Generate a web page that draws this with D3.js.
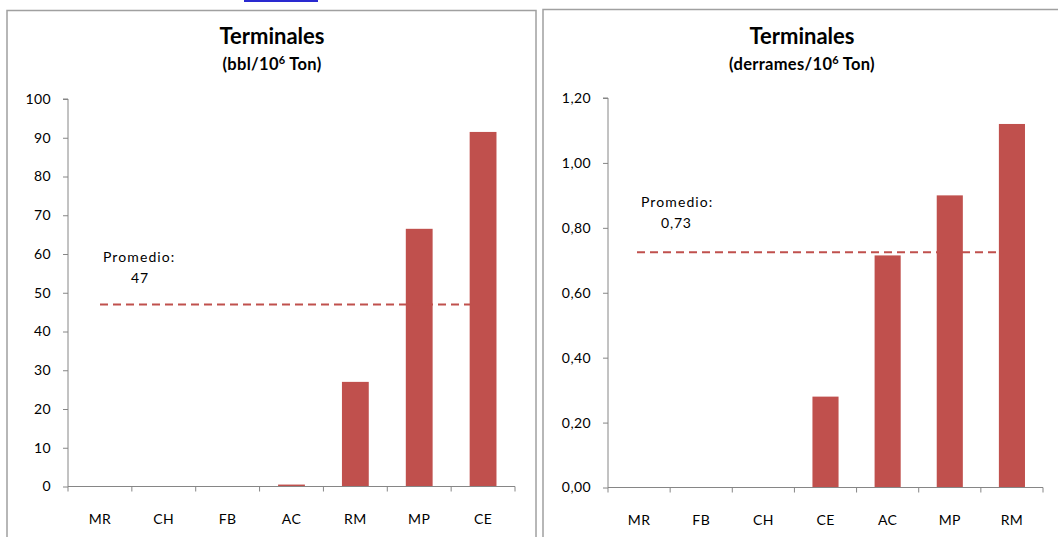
<!DOCTYPE html>
<html><head><meta charset="utf-8">
<script src="https://cdn.jsdelivr.net/npm/d3@7"></script>
<style>
html,body{margin:0;padding:0;background:#fff;}
svg{display:block;font-family:Lato,"Open Sans",sans-serif;}
</style></head>
<body>
<svg id="c" width="1058" height="537"></svg>
<script>
// Data
const catsLeft = ["MR","CH","FB","AC","RM","MP","CE"];
const valsLeft = [0, 0, 0, 0.5, 27, 66.5, 91.5];
const avgLeft = 47;
const avgLeftLabel = "47";
const ticksLeft = [0,10,20,30,40,50,60,70,80,90,100];

const catsRight = ["MR","FB","CH","CE","AC","MP","RM"];
const valsRight = [0, 0, 0, 0.28, 0.715, 0.90, 1.12];
const avgRight = 0.725;
const avgRightLabel = "0,73";
const ticksRight = [0,0.2,0.4,0.6,0.8,1.0,1.2];

const svg = d3.select("#c");
const barColor = "#C0504D";
const axisColor = "#868686";

// link underline fragment at top
svg.append("rect").attr("x",244).attr("y",0).attr("width",74).attr("height",2).attr("fill","#2a2ad0");

function panel(opt){
  const g = svg.append("g");
  // frame
  g.append("rect").attr("x",opt.fx).attr("y",opt.fy).attr("width",opt.fw).attr("height",600)
    .attr("fill","none").attr("stroke","#a0a0a0").attr("stroke-width",1.5);
  // title
  g.append("text").attr("x",opt.cx).attr("y",44).attr("text-anchor","middle")
    .attr("font-size",22).attr("font-weight","bold").attr("fill","#000").text("Terminales");
  const st = g.append("text").attr("x",opt.cx).attr("y",70).attr("text-anchor","middle")
    .attr("font-size",16.5).attr("font-weight","bold").attr("fill","#000").attr("letter-spacing",0.3);
  st.append("tspan").text(opt.sub1);
  st.append("tspan").attr("dy",-6).attr("font-size",11).text("6");
  st.append("tspan").attr("dy",6).text(" Ton)");

  const x = d3.scaleBand().domain(opt.cats).range([opt.x0,opt.x1]).paddingInner(0.58).paddingOuter(0.29);
  const y = d3.scaleLinear().domain([0,opt.max]).range([opt.y0,opt.y1]);

  // y axis
  const ya = g.append("g").attr("transform",`translate(${opt.x0},0)`)
    .call(d3.axisLeft(y).tickValues(opt.ticks).tickSize(5).tickPadding(opt.tp).tickFormat(opt.fmt));
  ya.selectAll("path,line").attr("stroke",axisColor);
  ya.select(".domain").attr("d",`M-5,${opt.y1}H0V${opt.y0}`);
  ya.selectAll("text").attr("font-size",14).attr("fill","#000").attr("font-family","Lato,sans-serif").attr("letter-spacing",0.4);

  // bars
  g.selectAll("rect.bar").data(opt.vals).enter().append("rect").attr("class","bar")
    .attr("x",(d,i)=>x(opt.cats[i])).attr("width",x.bandwidth())
    .attr("y",d=>y(d)).attr("height",d=>y(0)-y(d)).attr("fill",barColor);

  // x axis
  g.append("line").attr("x1",opt.x0).attr("x2",opt.x1).attr("y1",opt.y0).attr("y2",opt.y0).attr("stroke",axisColor);
  const bounds = opt.cats.map(c=>x(c)-(x.step()-x.bandwidth())/2).concat([opt.x1]);
  g.selectAll("line.xt").data(bounds).enter().append("line").attr("class","xt")
    .attr("x1",d=>d).attr("x2",d=>d).attr("y1",opt.y0).attr("y2",opt.y0+5).attr("stroke",axisColor);
  g.selectAll("text.xl").data(opt.cats).enter().append("text").attr("class","xl")
    .attr("x",d=>x(d)+x.bandwidth()/2).attr("y",opt.y0+37).attr("text-anchor","middle")
    .attr("font-size",14).attr("letter-spacing",0.4).attr("fill","#000").text(d=>d);

  // average line
  g.append("line").attr("x1",opt.ax0).attr("x2",opt.ax1).attr("y1",y(opt.avg)).attr("y2",y(opt.avg))
    .attr("stroke",barColor).attr("stroke-width",2).attr("stroke-dasharray","8,5");
  g.append("text").attr("x",opt.lx).attr("y",opt.ly).attr("font-size",14).attr("letter-spacing",1.1).attr("fill","#000").text("Promedio:");
  g.append("text").attr("x",opt.lx2).attr("y",opt.ly+21).attr("font-size",14).attr("letter-spacing",0.8).attr("fill","#000").text(opt.avgLabel);
}

panel({fx:7,fy:10.5,fw:529,cx:272,sub1:"(bbl/10",cats:catsLeft,vals:valsLeft,max:100,ticks:ticksLeft,
  x0:68,x1:515,y0:486.5,y1:99,tp:12,fmt:d=>d,avg:avgLeft,avgLabel:avgLeftLabel,ax0:100,ax1:476,
  lx:103,ly:262,lx2:131});
panel({fx:543,fy:9.5,fw:530,cx:802,sub1:"(derrames/10",cats:catsRight,vals:valsRight,max:1.2,ticks:ticksRight,
  x0:608,x1:1043,y0:487.5,y1:98,tp:12,fmt:d=>d3.format(".2f")(d).replace(".",","),avg:avgRight,avgLabel:avgRightLabel,ax0:637,ax1:1004,
  lx:641,ly:207,lx2:661});
</script>
</body></html>
